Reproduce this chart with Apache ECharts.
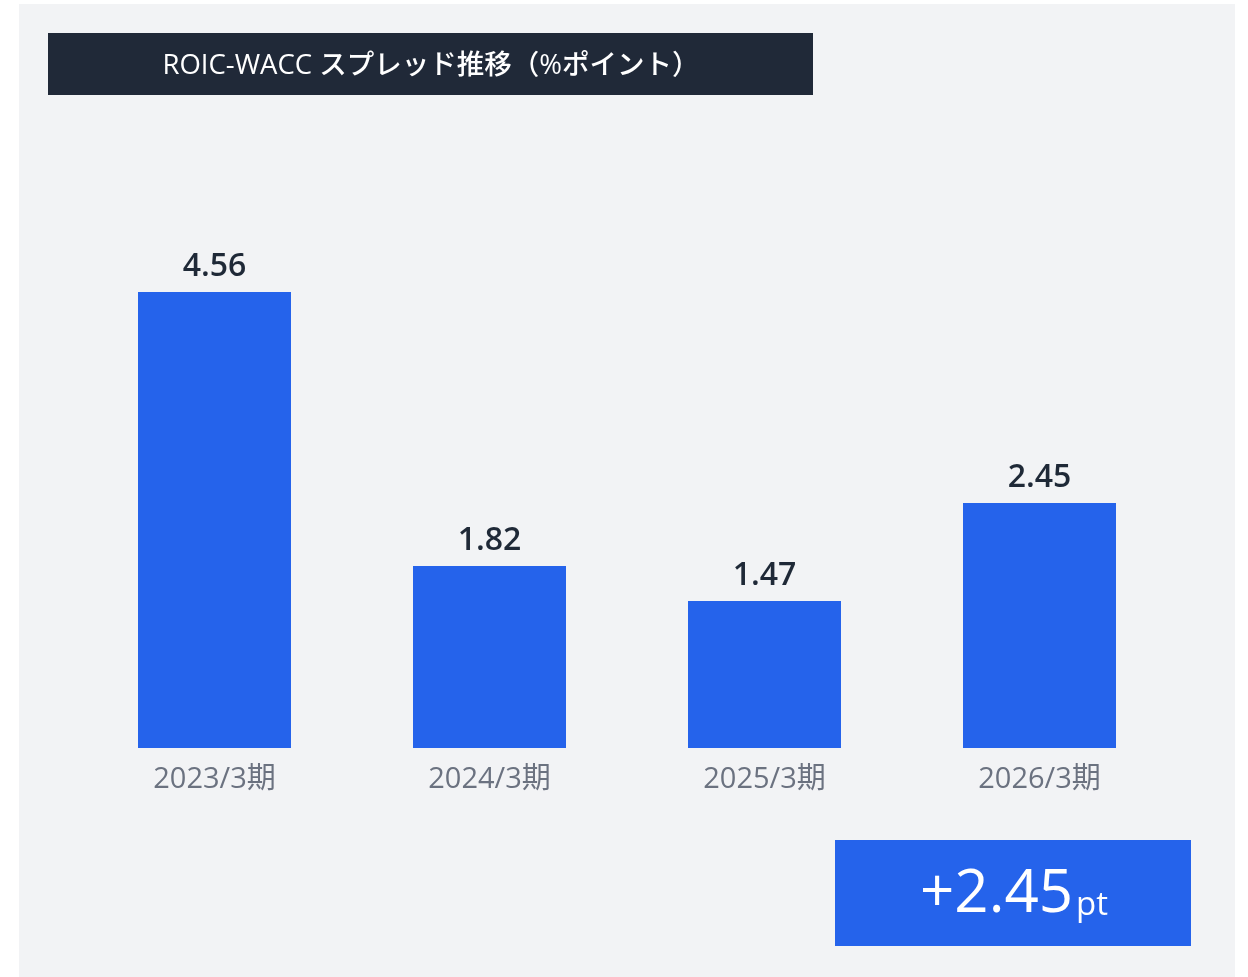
<!DOCTYPE html>
<html>
<head>
<meta charset="utf-8">
<script src="https://cdn.jsdelivr.net/npm/echarts@6/dist/echarts.min.js"></script>
<style>
  html, body { margin: 0; padding: 0; background: #ffffff; }
  #main { width: 1248px; height: 977px; }
</style>
</head>
<body>
<div id="main"></div>
<script>
// ROIC-WACC spread by fiscal year
var titleText = 'ROIC-WACC スプレッド推移（%ポイント）'
var categories = ['2023/3期', '2024/3期', '2025/3期', '2026/3期']
var spreadValues = [4.56, 1.82, 1.47, 2.45]
var calloutValue = '+2.45'
var calloutUnit = 'pt'

var FONT = '"Open Sans", "Noto Sans CJK JP", sans-serif'
var chart = echarts.init(document.getElementById('main'), null, { renderer: 'canvas' })

var option = {
  backgroundColor: '#ffffff',
  animation: false,
  graphic: [
    // panel background
    { type: 'rect', z: -10, shape: { x: 19, y: 4, width: 1216, height: 973 }, style: { fill: '#f2f3f5' } },
    // title bar
    { type: 'rect', shape: { x: 48, y: 33, width: 765, height: 62 }, style: { fill: '#202938' } },
    {
      type: 'text', x: 431, y: 66,
      style: {
        text: titleText, fill: '#ffffff', font: '500 27.5px ' + FONT,
        align: 'center', verticalAlign: 'middle'
      }
    },
    // callout box
    { type: 'rect', shape: { x: 835, y: 840, width: 356, height: 106 }, style: { fill: '#2563eb' } },
    {
      type: 'text', x: 1014, y: 895,
      style: {
        text: '{v|' + calloutValue + '}{u|' + calloutUnit + '}',
        align: 'center', verticalAlign: 'middle',
        rich: {
          v: { fill: '#ffffff', fontSize: 60, fontWeight: 500, fontFamily: FONT, verticalAlign: 'bottom' },
          u: { fill: '#ffffff', fontSize: 33, fontWeight: 500, fontFamily: FONT, verticalAlign: 'bottom', padding: [0, 0, 3, 3] }
        }
      }
    }
  ],
  grid: { left: 77, right: 71, top: 48, bottom: 229 },
  xAxis: {
    type: 'category',
    data: categories,
    axisLine: { show: false },
    axisTick: { show: false },
    axisLabel: { color: '#6b7280', fontSize: 29, fontFamily: FONT, margin: 17 }
  },
  yAxis: {
    type: 'value', min: 0, max: 7,
    show: false,
    splitLine: { show: false }
  },
  series: [{
    type: 'bar',
    data: spreadValues,
    barWidth: 153,
    itemStyle: { color: '#2563eb' },
    label: {
      show: true, position: 'top', distance: 9,
      color: '#1f2937', fontSize: 32, fontWeight: 600, fontFamily: FONT,
      formatter: function (p) { return p.value.toFixed(2) }
    }
  }]
}
chart.setOption(option)
</script>
</body>
</html>
